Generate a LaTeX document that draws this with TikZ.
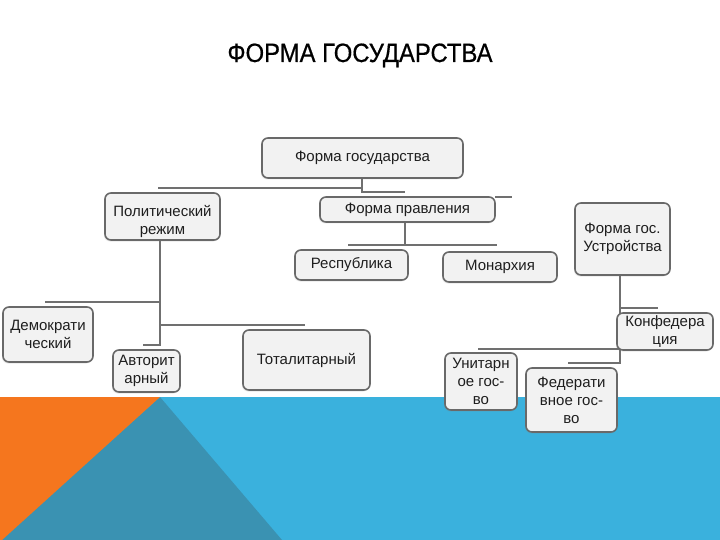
\documentclass[tikz,border=0pt]{standalone}
\usepackage{fontspec}
\setmainfont{Liberation Sans}
\newfontfamily\titlefont{Liberation Sans}[FakeBold=0.6]
\usetikzlibrary{calc,shadows}
\definecolor{lnc}{RGB}{112,112,112}
\definecolor{bxd}{RGB}{105,105,105}
\definecolor{bxf}{RGB}{242,242,242}
\definecolor{bandblue}{RGB}{58,177,221}
\definecolor{bandteal}{RGB}{58,146,178}
\definecolor{bandorange}{RGB}{245,118,30}
\definecolor{txc}{RGB}{30,30,30}
\begin{document}
\begin{tikzpicture}[x=1pt,y=-1pt,
  box/.style={draw=bxd, line width=1.6pt, fill=bxf, rounded corners=6pt,
    align=center, inner sep=0pt, text=txc, font=\fontsize{15}{18}\selectfont,
    drop shadow={shadow xshift=-1pt, shadow yshift=-1.5pt, opacity=0.18}},
  conn/.style={draw=lnc, line width=2pt}]
\useasboundingbox (0,0) rectangle (720,540);
\fill[white] (0,0) rectangle (720,540);
% background band
\fill[bandblue] (0,397) rectangle (720,540);
\fill[bandteal] (160,397) -- (282,540) -- (0,540) -- cycle;
\fill[bandorange] (0,397) -- (160,397) -- (2,540) -- (0,540) -- cycle;
% title
\node[text=black, font=\titlefont\fontsize{26.5}{30}\selectfont, anchor=base, inner sep=0pt] (title) at (360,62)
  {\scalebox{0.9}[1]{ФОРМА ГОСУДАРСТВА}};
% connector coordinates
\coordinate (g1) at (362,188);
\coordinate (g2) at (362,192);
\coordinate (gL) at (158,188);
\coordinate (gR) at (405,192);
\coordinate (pr1) at (495,197);
\coordinate (pr2) at (512,197);
\coordinate (pv1) at (405,222);
\coordinate (pv2) at (405,245);
\coordinate (pvL) at (348,245);
\coordinate (pvR) at (497,245);
\coordinate (r1) at (160,240);
\coordinate (r2) at (160,345);
\coordinate (rD) at (45,302);
\coordinate (rDj) at (160,302);
\coordinate (rT) at (305,325);
\coordinate (rTj) at (160,325);
\coordinate (rA) at (143,345);
\coordinate (u1) at (620,275);
\coordinate (u2) at (620,363);
\coordinate (uK) at (658,308);
\coordinate (uKj) at (620,308);
\coordinate (uU) at (478,349);
\coordinate (uUj) at (620,349);
\coordinate (uF) at (568,363);
% connectors
\draw[conn] (g1) -- (gL);
\draw[conn] (362,178) -- (g2) -- (gR);
\draw[conn] (pr1) -- (pr2);
\draw[conn] (pv1) -- (pv2);
\draw[conn] (pvL) -- (pvR);
\draw[conn] (r1) -- (r2) -- (rA);
\draw[conn] (rDj) -- (rD);
\draw[conn] (rTj) -- (rT);
\draw[conn] (u1) -- (u2) -- (uF);
\draw[conn] (uKj) -- (uK);
\draw[conn] (uUj) -- (uU);
% boxes
\node[box, minimum width=201pt, minimum height=40pt] (gos) at (362.5,158) {Форма государства};
\node[box, minimum width=115pt, minimum height=47pt,
  label={[align=center, text=txc, font=\fontsize{15}{18}\selectfont, yshift=-5pt]center:{Политический\\режим}}]
  (polit) at (162.5,216.5) {};
\node[box, minimum width=175pt, minimum height=25pt] (pravl) at (407.5,209.5) {Форма правления};
\node[box, minimum width=113pt, minimum height=30pt] (resp) at (351.5,265) {Республика};
\node[box, minimum width=114pt, minimum height=30pt] (monar) at (500,267) {Монархия};
\node[box, minimum width=95pt, minimum height=72pt] (ustr) at (622.5,239) {Форма гос.\\Устройства};
\node[box, minimum width=96pt, minimum height=37pt] (konf) at (665,331.5) {Конфедера\\ция};
\node[box, minimum width=90pt, minimum height=55pt] (demo) at (48,334.5) {Демократи\\ческий};
\node[box, minimum width=67pt, minimum height=42pt] (avt) at (146.5,371) {Авторит\\арный};
\node[box, minimum width=127pt, minimum height=60pt] (total) at (306.5,360) {Тоталитарный};
\node[box, minimum width=72pt, minimum height=57pt] (unit) at (481,381.5) {Унитарн\\ое гос-\\во};
\node[box, minimum width=91pt, minimum height=64pt] (feder) at (571.5,400) {Федерати\\вное гос-\\во};
\end{tikzpicture}
\end{document}
